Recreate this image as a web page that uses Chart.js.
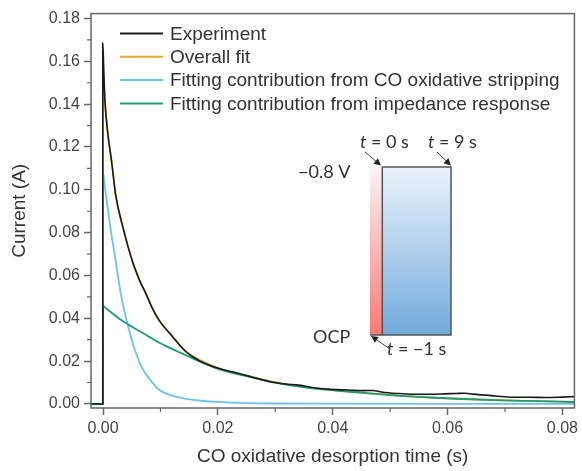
<!DOCTYPE html>
<html>
<head>
<meta charset="utf-8">
<script src="https://cdn.jsdelivr.net/npm/chart.js@4"></script>
<style>
  body { margin: 0; background: #fff; }
  #wrap { width: 582px; height: 471px; }
</style>
</head>
<body>
<div id="wrap"><canvas id="chart" width="582" height="471"></canvas></div>
<script>
/* ------------------
    Data (time in s, current in A)
-------------------*/
var seriesNames = ['Experiment', 'Overall fit',
  'Fitting contribution from CO oxidative stripping',
  'Fitting contribution from impedance response'];

var expT = [-0.0021, -0.00005, -0.00005, 0.0001, 0.0003, 0.0008, 0.0015, 0.0022, 0.0035, 0.0051, 0.0064, 0.0075, 0.0087, 0.0098, 0.0116, 0.0144, 0.0167, 0.0202, 0.0225, 0.0259, 0.0288, 0.0317, 0.0340, 0.0374, 0.0397, 0.0426, 0.0455, 0.0470, 0.0485, 0.0512, 0.0541, 0.0570, 0.0595, 0.0615, 0.0630, 0.0644, 0.0684, 0.0713, 0.0742, 0.0771, 0.0800, 0.0821];
var expI = [0, 0, 0.1685, 0.158, 0.143, 0.127, 0.113, 0.0975, 0.0821, 0.0667, 0.0575, 0.0513, 0.0440, 0.0389, 0.0330, 0.0245, 0.0203, 0.0165, 0.0150, 0.0126, 0.0105, 0.0093, 0.0088, 0.0073, 0.0068, 0.0065, 0.0062, 0.0063, 0.0056, 0.0049, 0.0045, 0.0045, 0.0047, 0.0049, 0.0050, 0.0046, 0.0037, 0.0031, 0.0031, 0.0030, 0.0032, 0.0034];

var fitT = [-0.0021, 0, 0, 0.0003, 0.0008, 0.0015, 0.0022, 0.0035, 0.0051, 0.0064, 0.0075, 0.0087, 0.0098, 0.0116, 0.0144, 0.0167, 0.0202, 0.0259, 0.0317, 0.0374, 0.0426, 0.0512, 0.0627, 0.0742, 0.0821];
var fitI = [0, 0, 0.1546, 0.142, 0.127, 0.113, 0.0975, 0.0821, 0.0667, 0.0575, 0.0513, 0.0442, 0.0389, 0.0330, 0.0245, 0.0207, 0.0166, 0.0126, 0.0092, 0.0071, 0.0058, 0.0039, 0.0023, 0.0014, 0.0009];

var coT = [-0.0021, 0, 0, 0.0002, 0.0005, 0.0013, 0.0022, 0.0031, 0.0042, 0.0052, 0.0067, 0.0087, 0.0098, 0.0116, 0.0127, 0.0144, 0.0167, 0.0207, 0.0250, 0.0300, 0.0400, 0.0600, 0.0821];
var coI = [0, 0, 0.1083, 0.1040, 0.0975, 0.0821, 0.0667, 0.0513, 0.0380, 0.0281, 0.0173, 0.0096, 0.0065, 0.0042, 0.0034, 0.0024, 0.0016, 0.0008, 0.0004, 0.0002, 0.0001, 0, 0];

var impT = [-0.0021, 0, 0, 0.0004, 0.0029, 0.0042, 0.0070, 0.0098, 0.0130, 0.0161, 0.0202, 0.0259, 0.0317, 0.0374, 0.0426, 0.0512, 0.0570, 0.0627, 0.0684, 0.0742, 0.0821];
var impI = [0, 0, 0.0458, 0.0449, 0.0397, 0.0374, 0.0330, 0.0286, 0.0245, 0.0207, 0.0163, 0.0124, 0.0091, 0.0070, 0.0058, 0.0039, 0.0030, 0.0023, 0.0018, 0.0014, 0.0009];

var xMinorTicks = [0.01, 0.03, 0.05, 0.07];
var yMinorTicks = [0.01, 0.03, 0.05, 0.07, 0.09, 0.11, 0.13, 0.15, 0.17];

var colors = ['#1a1a1a', '#F2A52B', '#6EC2EC', '#1E9C74'];

function toPoints(xs, ys) {
  return xs.map(function (x, i) { return {x: x, y: ys[i]}; });
}

var AXIS = '#666666';
var FONT = '"Liberation Sans", Arial, sans-serif';

/* ------------------
    Plugin: frame, minor ticks, legend, inset sketch
-------------------*/
function arrow(ctx, x1, y1, x2, y2) {
  var a = Math.atan2(y2 - y1, x2 - x1);
  ctx.beginPath();
  ctx.moveTo(x1, y1);
  ctx.lineTo(x2 - 4 * Math.cos(a), y2 - 4 * Math.sin(a));
  ctx.stroke();
  ctx.beginPath();
  ctx.moveTo(x2, y2);
  ctx.lineTo(x2 - 7 * Math.cos(a) + 3.5 * Math.sin(a), y2 - 7 * Math.sin(a) - 3.5 * Math.cos(a));
  ctx.lineTo(x2 - 7 * Math.cos(a) - 3.5 * Math.sin(a), y2 - 7 * Math.sin(a) + 3.5 * Math.cos(a));
  ctx.closePath();
  ctx.fill();
}

function tLabel(ctx, x, y, rest) {
  ctx.font = 'italic 18px Lato, sans-serif';
  ctx.fillText('t', x, y);
  var w = ctx.measureText('t').width;
  ctx.font = '18px Lato, sans-serif';
  ctx.fillText(rest, x + w, y);
}

var extras = {
  id: 'extras',
  afterDraw: function (chart) {
    var ctx = chart.ctx, a = chart.chartArea;
    var xs = chart.scales.x, ys = chart.scales.y;
    ctx.save();
    // frame
    ctx.strokeStyle = AXIS;
    ctx.lineWidth = 1.5;
    ctx.strokeRect(a.left, a.top, a.right - a.left, a.bottom - a.top);
    // minor ticks
    ctx.lineWidth = 1.2;
    ctx.beginPath();
    xMinorTicks.forEach(function (v) {
      var px = xs.getPixelForValue(v);
      ctx.moveTo(px, a.bottom); ctx.lineTo(px, a.bottom + 4);
    });
    yMinorTicks.forEach(function (v) {
      var py = ys.getPixelForValue(v);
      ctx.moveTo(a.left, py); ctx.lineTo(a.left - 4, py);
    });
    ctx.stroke();

    // legend
    ctx.font = '19px ' + FONT;
    ctx.textBaseline = 'middle';
    chart.data.datasets.forEach(function (ds, i) {
      var y = 33.5 + i * 23.3;
      ctx.strokeStyle = ds.borderColor;
      ctx.lineWidth = 2;
      ctx.beginPath();
      ctx.moveTo(120, y); ctx.lineTo(163, y);
      ctx.stroke();
      ctx.fillStyle = '#333';
      ctx.fillText(ds.label, 170, y + 1);
    });

    // inset: potential step sketch
    var top = 167, bot = 335;
    var g1 = ctx.createLinearGradient(0, top, 0, bot);
    g1.addColorStop(0, '#fbf4f4');
    g1.addColorStop(1, '#f77878');
    ctx.fillStyle = g1;
    ctx.fillRect(370, top, 12.3, bot - top);
    var g2 = ctx.createLinearGradient(0, top, 0, bot);
    g2.addColorStop(0, '#ebf2fa');
    g2.addColorStop(1, '#72abdc');
    ctx.fillStyle = g2;
    ctx.fillRect(382.3, top, 68.7, bot - top);
    ctx.strokeStyle = '#555';
    ctx.lineWidth = 1.5;
    ctx.strokeRect(382.3, top, 68.7, bot - top);
    ctx.beginPath();
    ctx.moveTo(370, bot); ctx.lineTo(382.3, bot);
    ctx.stroke();

    ctx.strokeStyle = '#444';
    ctx.fillStyle = '#222';
    ctx.lineWidth = 1;
    arrow(ctx, 365, 152, 381, 165.5);
    arrow(ctx, 437, 152, 451, 165.5);
    arrow(ctx, 390, 349, 371, 336);

    ctx.fillStyle = '#333';
    ctx.textBaseline = 'middle';
    tLabel(ctx, 360, 142, ' = 0 s');
    tLabel(ctx, 428, 142, ' = 9 s');
    tLabel(ctx, 387, 349, ' = \u22121 s');
    ctx.font = '18px Lato, sans-serif';
    ctx.fillText('\u22120.8 V', 298, 172);
    ctx.fillText('OCP', 313, 337);
    ctx.restore();
  }
};

/* ------------------
    Line chart
-------------------*/
var allT = [expT, fitT, coT, impT];
var allI = [expI, fitI, coI, impI];
var drawOrder = [1, 4, 3, 2];

var datasets = seriesNames.map(function (name, i) {
  return {
    label: name,
    data: toPoints(allT[i], allI[i]),
    borderColor: colors[i],
    backgroundColor: colors[i],
    borderWidth: i === 0 ? 1.6 : 1.8,
    pointRadius: 0,
    showLine: true,
    cubicInterpolationMode: 'monotone',
    order: drawOrder[i]
  };
});

var chart = new Chart(document.getElementById('chart'), {
  type: 'scatter',
  data: { datasets: datasets },
  options: {
    responsive: false,
    animation: false,
    layout: { padding: { top: 10, right: 2, left: 0, bottom: 0 } },
    plugins: { legend: { display: false }, tooltip: { enabled: false } },
    scales: {
      x: {
        type: 'linear',
        min: -0.0021,
        max: 0.0821,
        afterFit: function (s) { s.height = 63; },
        border: { display: false },
        grid: { drawOnChartArea: false, drawTicks: true, tickLength: 7, tickColor: AXIS, tickWidth: 1.5 },
        ticks: {
          stepSize: 0.02, includeBounds: false, padding: 4, color: '#444',
          font: { family: FONT, size: 16 },
          callback: function (v) { return v.toFixed(2); }
        },
        title: { display: true, text: 'CO oxidative desorption time (s)', color: '#333',
                 font: { family: FONT, size: 19 }, padding: { top: 0, bottom: 3 } }
      },
      y: {
        min: -0.0019,
        max: 0.1823,
        afterFit: function (s) { s.width = 91; },
        border: { display: false },
        grid: { drawOnChartArea: false, drawTicks: true, tickLength: 7, tickColor: AXIS, tickWidth: 1.5 },
        ticks: {
          stepSize: 0.02, includeBounds: false, padding: 4, color: '#444',
          font: { family: FONT, size: 16 },
          callback: function (v) { return v.toFixed(2); }
        },
        title: { display: true, text: 'Current (A)', color: '#333',
                 font: { family: FONT, size: 19 }, padding: { top: 8, bottom: 0 } }
      }
    }
  },
  plugins: [extras]
});
</script>
</body>
</html>
